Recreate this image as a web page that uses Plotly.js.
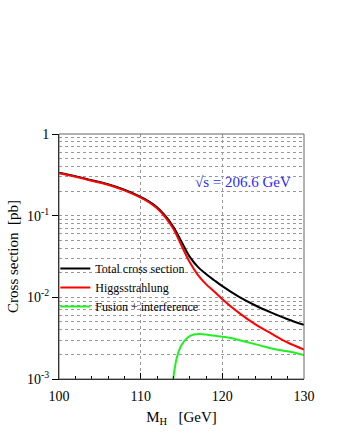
<!DOCTYPE html>
<html>
<head>
<meta charset="utf-8">
<script src="https://cdn.plot.ly/plotly-3.0.1.min.js"></script>
<style>
  html, body { margin: 0; padding: 0; background: #fff; }
  #grafico { width: 337px; height: 436px; }
</style>
</head>
<body>
<div id="grafico"></div>
<script>
// Masa del Higgs (GeV) y secciones eficaces (pb)
const masaTotal = [100, 102, 104, 106, 108, 110, 111, 112, 113, 114, 115, 116, 117, 118, 119, 120, 122, 124, 126, 128, 130];
const seccionTotal = [0.335, 0.305, 0.272, 0.243, 0.208, 0.170, 0.150, 0.127, 0.100, 0.073, 0.048, 0.0315, 0.0236, 0.0193, 0.0162, 0.0137, 0.0102, 0.0080, 0.0065, 0.0054, 0.0046];

const masaHiggs = [100, 102, 104, 106, 108, 110, 111, 112, 113, 114, 115, 116, 117, 118, 119, 120, 122, 124, 126, 128, 130];
const seccionHiggs = [0.330, 0.300, 0.268, 0.239, 0.204, 0.166, 0.146, 0.123, 0.096, 0.069, 0.043, 0.027, 0.0188, 0.0145, 0.0118, 0.0095, 0.0065, 0.0047, 0.0036, 0.0028, 0.0023];

const masaFusion = [113.95, 114.2, 114.4, 115, 115.8, 116.5, 117.3, 118, 118.9, 120.9, 122.6, 124.5, 126.6, 128.3, 130];
const seccionFusion = [0.00095, 0.0014, 0.00178, 0.0026, 0.00324, 0.0035, 0.00355, 0.0035, 0.0034, 0.0032, 0.0029, 0.0026, 0.0023, 0.00215, 0.00196];

const ticksY = [0.001, 0.01, 0.1, 1];
const textoTicksY = ['10<sup>-3</sup>', '10<sup>-2</sup>', '10<sup>-1</sup>', '1'];
const ticksX = [100, 110, 120, 130];

const fuente = 'Liberation Serif, Times New Roman, serif';

let datos = [
  {
    x: masaTotal, y: seccionTotal,
    type: 'scatter', mode: 'lines',
    name: 'Total cross section',
    line: { color: '#000000', width: 2, shape: 'spline' }
  },
  {
    x: masaHiggs, y: seccionHiggs,
    type: 'scatter', mode: 'lines',
    name: 'Higgsstrahlung',
    line: { color: '#ff0000', width: 2, shape: 'spline' }
  },
  {
    x: masaFusion, y: seccionFusion,
    type: 'scatter', mode: 'lines',
    name: 'Fusion + interference',
    line: { color: '#22ee22', width: 2, shape: 'spline' }
  }
];

let layout = {
  width: 337,
  height: 436,
  margin: { l: 59, r: 33, t: 134, b: 57 },
  paper_bgcolor: '#ffffff',
  plot_bgcolor: '#ffffff',
  font: { family: fuente, size: 13, color: '#000' },
  showlegend: true,
  legend: {
    x: -0.015, y: 0.51, xanchor: 'left', yanchor: 'top',
    bgcolor: 'rgba(0,0,0,0)',
    font: { family: fuente, size: 12, color: '#000' },
    itemwidth: 30,
    tracegroupgap: 0
  },
  xaxis: {
    range: [100, 130],
    tickvals: ticksX,
    ticks: 'inside', ticklen: 6, tickcolor: '#000',
    showline: true, linecolor: '#000', linewidth: 1,
    showgrid: true, gridcolor: '#999', griddash: 'dot', gridwidth: 1,
    zeroline: false,
    ticklabelstandoff: 4,
    tickfont: { family: fuente, size: 14 },
    minor: { dtick: 2, ticks: 'inside', ticklen: 3, tickcolor: '#000', showgrid: false },
    title: { text: 'M<sub>H</sub>   [GeV]', font: { family: fuente, size: 15 }, standoff: 8 }
  },
  yaxis: {
    type: 'log',
    range: [-3, 0],
    tickvals: ticksY,
    ticktext: textoTicksY,
    ticks: 'outside', ticklen: 6, tickcolor: '#000',
    showline: true, linecolor: '#000', linewidth: 1,
    showgrid: true, gridcolor: '#999', griddash: 'dot', gridwidth: 1,
    zeroline: false,
    tickfont: { family: fuente, size: 14 },
    minor: { dtick: 'D1', ticks: '', showgrid: true, gridcolor: '#999', griddash: 'dot', gridwidth: 1 },
    title: { text: 'Cross section  [pb]', font: { family: fuente, size: 15 }, standoff: 4 }
  },
  shapes: [
    { type: 'rect', xref: 'paper', yref: 'paper', x0: 0, x1: 1, y0: 0, y1: 1,
      line: { color: '#666', width: 1 }, layer: 'above' }
  ],
  annotations: [
    { xref: 'paper', yref: 'paper', x: 0.955, y: 0.805, xanchor: 'right', yanchor: 'middle',
      text: '√s = 206.6 GeV', showarrow: false,
      font: { family: fuente, size: 15, color: '#2a2aff' } }
  ]
};

Plotly.newPlot('grafico', datos, layout, { staticPlot: true });
</script>
</body>
</html>
